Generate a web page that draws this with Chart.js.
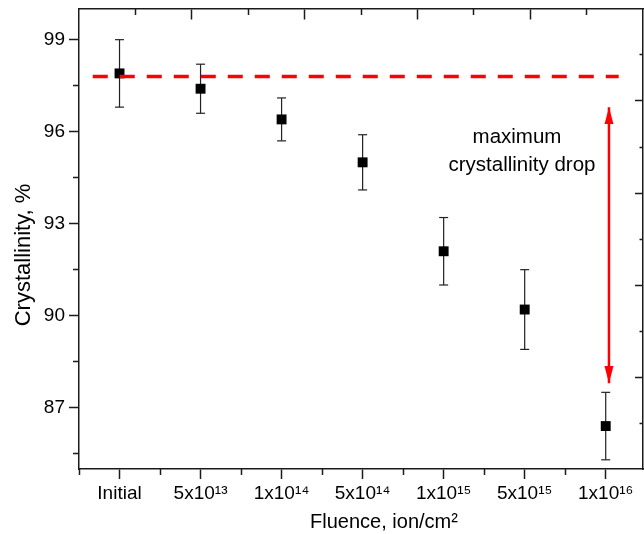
<!DOCTYPE html>
<html>
<head>
<meta charset="utf-8">
<script src="https://cdn.jsdelivr.net/npm/chart.js@4.4.1/dist/chart.umd.min.js"></script>
<style>
  html, body { margin: 0; padding: 0; background: #fff; }
</style>
</head>
<body>
<canvas id="chart" width="644" height="534"></canvas>
<script>
// values
const fluenceLabels = ['Initial', '5x10¹³', '1x10¹⁴', '5x10¹⁴', '1x10¹⁵', '5x10¹⁵', '1x10¹⁶'];
const crystallinity = [97.9, 97.4, 96.4, 95.0, 92.1, 90.2, 86.4];
const crystErr = [1.1, 0.8, 0.7, 0.9, 1.1, 1.3, 1.1];

// dashed level of the initial sample and the "drop" arrow
const initialLevel = 97.8;
const levelLineX = [-0.33, 6.16];
const dropArrowX = 6.04;
const dropArrowY = [96.8, 87.8];

// tick positions (the frame on top/right has its own tick spacing)
const yMajorTicks = [87, 90, 93, 96, 99];
const yMinorTicks = [85.5, 88.5, 91.5, 94.5, 97.5];
const xMinorTicks = [-0.5, 0.5, 1.5, 2.5, 3.5, 4.5, 5.5];
const topMajorTicks = [0.89, 2.28, 3.68, 5.07];
const topMinorTicks = [0.2, 1.59, 2.98, 4.37, 5.76];
const rightMajorTicks = [97, 94, 91, 88];
const rightMinorTicks = [98.5, 95.5, 92.5, 89.5, 86.5];

// the figure is cut just before the last half step on the right
const xMin = -0.5;
const xMax = 6.46;

const FONT = "'Liberation Sans', Arial, sans-serif";
const RED = '#ff0000';
const AXIS = '#1a1a1a';

// error bars: low/high pairs, null breaks the line between points
const errorBarData = [];
crystallinity.forEach((v, i) => {
  errorBarData.push({ x: i, y: v - crystErr[i] }, { x: i, y: v + crystErr[i] }, { x: i, y: null });
});

// arrow heads as point images, tip at the centre of the image
function arrowHead(up) {
  const c = document.createElement('canvas');
  c.width = 10;
  c.height = 34;
  const g = c.getContext('2d');
  g.fillStyle = RED;
  g.beginPath();
  if (up) {
    g.moveTo(5, 17); g.lineTo(0.5, 34); g.lineTo(9.5, 34);
  } else {
    g.moveTo(5, 17); g.lineTo(0.5, 0); g.lineTo(9.5, 0);
  }
  g.closePath();
  g.fill();
  return c;
}

function fixTicks(values) {
  return function(scale) {
    scale.ticks = values.map(v => ({ value: v }));
  };
}

// keep label overflow from pushing the plot area around
function noPadding(s) {
  s.paddingTop = 0;
  s.paddingBottom = 0;
  s.paddingLeft = 0;
  s.paddingRight = 0;
}

// extra tick rows drawn on the frame, they take no room in the layout
function frameAxis(axis, position, min, max, ticks, len, border) {
  return {
    type: 'linear',
    axis: axis,
    position: position,
    min: min,
    max: max,
    afterBuildTicks: fixTicks(ticks),
    afterFit: s => {
      noPadding(s);
      if (axis === 'y') s.width = 0; else s.height = 0;
    },
    grid: { drawOnChartArea: false, tickLength: len, tickColor: AXIS, tickWidth: 1.5 },
    border: { display: border, color: AXIS, width: 1.5 },
    ticks: { display: false }
  };
}

// axis titles and the annotation
const textPlugin = {
  id: 'figureText',
  afterDraw(chart) {
    const ctx = chart.ctx;
    ctx.save();
    ctx.fillStyle = '#000';
    ctx.textAlign = 'center';
    ctx.textBaseline = 'alphabetic';
    ctx.font = '20px ' + FONT;
    ctx.fillText('Fluence, ion/cm²', 384, 528);
    ctx.font = '20.5px ' + FONT;
    ctx.fillText('maximum', 517, 143);
    ctx.fillText('crystallinity drop', 522, 171);
    ctx.translate(29.5, 255);
    ctx.rotate(-Math.PI / 2);
    ctx.font = '22px ' + FONT;
    ctx.fillText('Crystallinity, %', 0, 0);
    ctx.restore();
  }
};

new Chart(document.getElementById('chart'), {
  type: 'line',
  data: {
    datasets: [
      {
        label: 'initial level',
        data: levelLineX.map(x => ({ x: x, y: initialLevel })),
        borderColor: RED,
        borderWidth: 3.5,
        borderDash: [15, 12],
        pointRadius: 0,
        order: 0
      },
      {
        label: 'drop',
        data: dropArrowY.map(y => ({ x: dropArrowX, y: y })),
        borderColor: RED,
        borderWidth: 2.5,
        pointStyle: [arrowHead(true), arrowHead(false)],
        pointRadius: 5,
        order: 0
      },
      {
        label: 'Crystallinity',
        data: crystallinity.map((v, i) => ({ x: i, y: v })),
        showLine: false,
        pointStyle: 'rect',
        pointRadius: 7,
        pointBackgroundColor: '#000',
        pointBorderColor: '#000',
        pointBorderWidth: 0,
        order: 1
      },
      {
        label: 'error',
        data: errorBarData,
        spanGaps: false,
        borderColor: '#222',
        borderWidth: 1.2,
        pointStyle: 'line',
        pointRadius: 4.5,
        pointBorderColor: '#222',
        pointBorderWidth: 1.2,
        order: 2
      }
    ]
  },
  options: {
    responsive: false,
    animation: false,
    devicePixelRatio: 1,
    layout: { autoPadding: false, padding: { top: 9, right: 1, left: 0, bottom: 0 } },
    plugins: {
      legend: { display: false },
      tooltip: { enabled: false }
    },
    scales: {
      x: {
        type: 'linear',
        position: 'bottom',
        min: xMin,
        max: xMax,
        afterBuildTicks: fixTicks(fluenceLabels.map((_, i) => i)),
        afterFit: s => { s.height = 65; noPadding(s); },
        grid: { drawOnChartArea: false, tickLength: 10, tickColor: AXIS, tickWidth: 1.5 },
        border: { display: true, color: AXIS, width: 1.5 },
        ticks: {
          callback: v => fluenceLabels[v],
          autoSkip: false,
          maxRotation: 0,
          padding: 3,
          color: '#000',
          font: { family: FONT, size: 19 }
        }
      },
      y: {
        type: 'linear',
        position: 'left',
        min: 85,
        max: 100,
        afterBuildTicks: fixTicks(yMajorTicks),
        afterFit: s => { s.width = 79; noPadding(s); },
        grid: { drawOnChartArea: false, tickLength: 10, tickColor: AXIS, tickWidth: 1.5 },
        border: { display: true, color: AXIS, width: 1.5 },
        ticks: {
          padding: 4,
          color: '#000',
          font: { family: FONT, size: 19 }
        }
      },
      xMinor: frameAxis('x', { y: 85 }, xMin, xMax, xMinorTicks, 6, false),
      yMinor: frameAxis('y', { x: xMin }, 85, 100, yMinorTicks, 6, false),
      xTop: frameAxis('x', { y: 100 }, xMin, xMax, topMajorTicks, 10, true),
      xTopMinor: frameAxis('x', { y: 100 }, xMin, xMax, topMinorTicks, 6, false),
      yRight: frameAxis('y', { x: xMax }, 85, 100, rightMajorTicks, 7, true),
      yRightMinor: frameAxis('y', { x: xMax }, 85, 100, rightMinorTicks, 3.5, false)
    }
  },
  plugins: [textPlugin]
});
</script>
</body>
</html>
